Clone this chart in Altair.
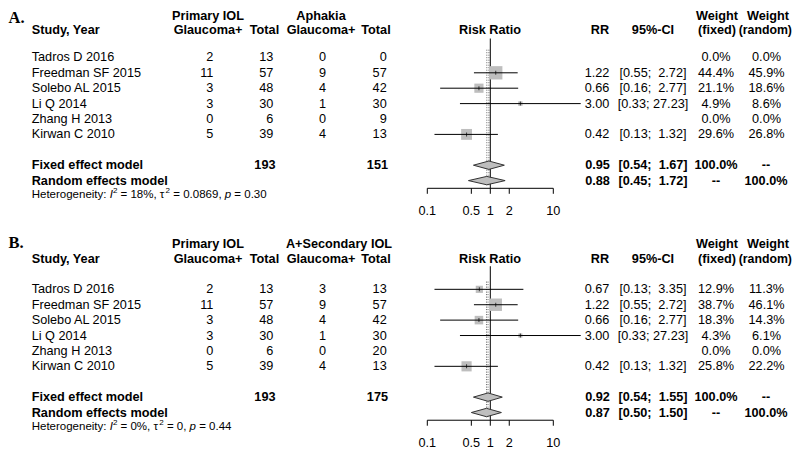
import altair as alt
import pandas as pd

# ---------------- data ----------------
studies = ["Tadros D 2016", "Freedman SF 2015", "Solebo AL 2015", "Li Q 2014", "Zhang H 2013", "Kirwan C 2010"]
primary_events = [2, 11, 3, 3, 0, 5]
primary_total = [13, 57, 48, 30, 6, 39]

# Panel A: Primary IOL vs Aphakia
a_ctrl_events = [0, 9, 4, 1, 0, 4]
a_ctrl_total = [0, 57, 42, 30, 9, 13]
a_rr = [None, 1.22, 0.66, 3.00, None, 0.42]
a_lo = [None, 0.55, 0.16, 0.33, None, 0.13]
a_hi = [None, 2.72, 2.77, 27.23, None, 1.32]
a_w_fixed = [0.0, 44.4, 21.1, 4.9, 0.0, 29.6]
a_w_random = [0.0, 45.9, 18.6, 8.6, 0.0, 26.8]
a_fixed = (0.95, 0.54, 1.67)
a_random = (0.88, 0.45, 1.72)
a_totals = (193, 151)
a_het = ("18%", "0.0869", "0.30")

# Panel B: Primary IOL vs A+Secondary IOL
b_ctrl_events = [3, 9, 4, 1, 0, 4]
b_ctrl_total = [13, 57, 42, 30, 20, 13]
b_rr = [0.67, 1.22, 0.66, 3.00, None, 0.42]
b_lo = [0.13, 0.55, 0.16, 0.33, None, 0.13]
b_hi = [3.35, 2.72, 2.77, 27.23, None, 1.32]
b_w_fixed = [12.9, 38.7, 18.3, 4.3, 0.0, 25.8]
b_w_random = [11.3, 46.1, 14.3, 6.1, 0.0, 22.2]
b_fixed = (0.92, 0.54, 1.55)
b_random = (0.87, 0.50, 1.50)
b_totals = (193, 175)
b_het = ("0%", "0", "0.44")

axis_ticks = [0.1, 0.5, 1, 2, 10]

# ---------------- layout ----------------
SANS = "Liberation Sans, Arial, Helvetica, sans-serif"
SERIF = "Liberation Serif, Times New Roman, serif"
FS = 12.7
HS = 11.5
W, H = 784, 442
ROW0 = 49.4      # plot y of first study row (panel A)
ROWH = 15.4
B_OFF = 15.06
GRAY = "#BEBEBE"


def px(x):
    return x - 8


def img_row(y_img):
    """row units for an image y (panel A)"""
    return (y_img - 57.4) / ROWH


yscale = alt.Scale(domain=[-ROW0 / ROWH, (H - ROW0) / ROWH], range=[0, H], nice=False, zero=False)
xscale = alt.Scale(type="log", domain=[0.1, 10], range=[px(427.3), px(553.3)], nice=False)
Yr = alt.Y("y:Q", scale=yscale, axis=None)
Xr = alt.X("x:Q", scale=xscale, axis=None)

layers = []


def add_text(rows, x, align="left", bold=False, size=FS, italic=False, font=SANS, dy=0,
             baseline="middle"):
    if not rows:
        return
    df = pd.DataFrame(rows, columns=["t", "y"])
    layers.append(
        alt.Chart(df).mark_text(
            align=align, baseline=baseline, font=font, fontSize=size,
            fontWeight="bold" if bold else "normal",
            fontStyle="italic" if italic else "normal",
            dy=dy, color="black",
        ).encode(x=alt.value(px(x)), y=Yr, text="t:N")
    )


AW = {" ": 278, ":": 278, ",": 278, ".": 278, "=": 584, "%": 889, "H": 722, "e": 556,
      "t": 278, "r": 333, "o": 556, "g": 556, "n": 556, "i": 222, "y": 500, "I": 278,
      "p": 556, "τ": 500}


def tw(s, size):
    return sum(AW.get(c, 556) for c in s) * size / 1000.0


def ci_str(lo, hi):
    return f"[{lo:.2f}; {hi:5.2f}]".replace("  ", " \u00a0")


panels = [
    dict(label="A.", ctrl="Aphakia", ctrl_x=321, off=0.0, ce=a_ctrl_events, ct=a_ctrl_total,
         rr=a_rr, lo=a_lo, hi=a_hi, wf=a_w_fixed, wr=a_w_random, fixed=a_fixed,
         random=a_random, totals=a_totals, het=a_het,
         lab_row=img_row(22.6), r1=img_row(15.9), r2=img_row(30.2), line_top=img_row(38.5)),
    dict(label="B.", ctrl="A+Secondary IOL", ctrl_x=339, off=B_OFF, ce=b_ctrl_events, ct=b_ctrl_total,
         rr=b_rr, lo=b_lo, hi=b_hi, wf=b_w_fixed, wr=b_w_random, fixed=b_fixed,
         random=b_random, totals=b_totals, het=b_het,
         lab_row=B_OFF - 2.7, r1=B_OFF - 2.93, r2=B_OFF - 1.97, line_top=B_OFF - 1.5),
]

sq_rows, ci_rows, dia_rows, ref_rows, dot_rows, axl_rows, axt_rows = [], [], [], [], [], [], []
lab_rows = []
HH = 4.2 / ROWH
FX = 716      # centre of the "Weight (fixed)" column
RX = 766.5    # centre of the "Weight (random)" column

for p in panels:
    o = p["off"]
    # panel label and headers
    add_text([(p["label"], p["lab_row"])], 8.5, bold=True, size=16.5, font=SERIF, baseline="alphabetic")
    r1, r2 = p["r1"], p["r2"]
    add_text([("Primary IOL", r1), ("Glaucoma+", r2)], 208, align="center", bold=True)
    add_text([(p["ctrl"], r1)], p["ctrl_x"], align="center", bold=True)
    add_text([("Glaucoma+", r2)], 321, align="center", bold=True)
    add_text([("Total", r2)], 264.5, align="center", bold=True)
    add_text([("Total", r2)], 376, align="center", bold=True)
    add_text([("Study, Year", r2)], 31.7, bold=True)
    add_text([("Risk Ratio", r2)], 490, align="center", bold=True)
    add_text([("RR", r2)], 600, align="center", bold=True)
    add_text([("95%-CI", r2)], 653, align="center", bold=True)
    add_text([("Weight", r1), ("(fixed)", r2)], FX + 1, align="center", bold=True)
    add_text([("Weight", r1)], 768, align="center", bold=True)
    add_text([("(random)", r2)], 765.3, align="center", bold=True, size=12.3)

    # study rows
    rows_y = [o + i for i in range(len(studies))]
    add_text(list(zip(studies, rows_y)), 31.7)
    add_text([(str(v), y) for v, y in zip(primary_events, rows_y)], 213.3, align="right")
    add_text([(str(v), y) for v, y in zip(primary_total, rows_y)], 273.3, align="right")
    add_text([(str(v), y) for v, y in zip(p["ce"], rows_y)], 326, align="right")
    add_text([(str(v), y) for v, y in zip(p["ct"], rows_y)], 386.7, align="right")
    add_text([(f"{v:.2f}", y) for v, y in zip(p["rr"], rows_y) if v is not None], 597, align="center")
    add_text([(ci_str(l, h), y) for l, h, y in zip(p["lo"], p["hi"], rows_y) if l is not None], 653, align="center")
    add_text([(f"{v:.1f}%", y) for v, y in zip(p["wf"], rows_y)], FX, align="center")
    add_text([(f"{v:.1f}%", y) for v, y in zip(p["wr"], rows_y)], RX, align="center")

    for rr, lo, hi, w, y in zip(p["rr"], p["lo"], p["hi"], p["wf"], rows_y):
        if rr is None:
            continue
        sq_rows.append(dict(x=rr, y=y, s=4 * w))
        ci_rows.append(dict(x=lo, x2=hi, y=y))

    # summary rows
    yf, yr = o + 7, o + 8
    add_text([("Fixed effect model", yf), ("Random effects model", yr)], 31.7, bold=True)
    add_text([(str(p["totals"][0]), yf)], 275.5, align="right", bold=True)
    add_text([(str(p["totals"][1]), yf)], 388, align="right", bold=True)
    add_text([(f"{p['fixed'][0]:.2f}", yf), (f"{p['random'][0]:.2f}", yr)], 597.5, align="center", bold=True)
    add_text([(ci_str(p["fixed"][1], p["fixed"][2]), yf), (ci_str(p["random"][1], p["random"][2]), yr)],
             653, align="center", bold=True)
    add_text([("100.0%", yf), ("--", yr)], FX, align="center", bold=True)
    add_text([("--", yf), ("100.0%", yr)], RX - 0.5, align="center", bold=True)

    for key, (est, lo, hi), y in (("f", p["fixed"], yf), ("r", p["random"], yr)):
        k = f"{p['label']}{key}"
        dia_rows += [dict(k=k, x=lo, y=y, y2=y), dict(k=k, x=est, y=y - HH, y2=y + HH),
                     dict(k=k, x=hi, y=y, y2=y)]
        dot_rows.append(dict(x=est, y=o - 0.5, y2=yr + 0.3))

    # heterogeneity line
    i2, tau, pv = p["het"]
    yh = o + 8.95
    pieces = [("Heterogeneity: ", "n"), ("I", "i"), ("2", "s"), (f" = {i2}, ", "n"), ("τ", "n"),
              ("2", "s"), (f" = {tau}, ", "n"), ("p", "i"), (f" = {pv}", "n")]
    x = 31.7
    for s, st in pieces:
        size = HS * 0.7 if st == "s" else HS
        lead = len(s) - len(s.lstrip(" "))
        add_text([(s.strip(), yh)], x + lead * 0.278 * size, size=size, italic=(st == "i"),
                 dy=(-HS * 0.33 if st == "s" else 0))
        x += tw(s, size)

    # reference lines and axis
    ref_rows.append(dict(x=1, y=p["line_top"], y2=o + 8.5))
    axl_rows.append(dict(x=axis_ticks[0], x2=axis_ticks[-1], y=o + 8.5))
    for t in axis_ticks:
        axt_rows.append(dict(x=t, y=o + 8.5, y2=o + 8.5 + 5.5 / ROWH))
        lab_rows.append(dict(x=t, y=o + 10, t=f"{t:g}"))

sq_df = pd.DataFrame(sq_rows)
ci_df = pd.DataFrame(ci_rows)
dia_df = pd.DataFrame(dia_rows)

forest = [
    alt.Chart(pd.DataFrame(dot_rows)).mark_rule(color="#666", strokeWidth=1, strokeDash=[1, 1.5])
    .encode(x=Xr, y=Yr, y2="y2:Q"),
    alt.Chart(pd.DataFrame(ref_rows)).mark_rule(color="black", strokeWidth=1)
    .encode(x=Xr, y=Yr, y2="y2:Q"),
    alt.Chart(sq_df).mark_square(filled=True, color=GRAY, opacity=1)
    .encode(x=Xr, y=Yr, size=alt.Size("s:Q", scale=None, legend=None)),
    alt.Chart(ci_df).mark_rule(color="black", strokeWidth=1).encode(x=Xr, x2="x2:Q", y=Yr),
    alt.Chart(sq_df).mark_tick(orient="vertical", size=4, thickness=1, color="black")
    .encode(x=Xr, y=Yr),
    alt.Chart(dia_df).mark_area(fill=GRAY, stroke="#333", strokeWidth=1, fillOpacity=1, orient="vertical")
    .encode(x=Xr, y=Yr, y2="y2:Q", detail="k:N"),
    alt.Chart(pd.DataFrame(axl_rows)).mark_rule(color="black", strokeWidth=1).encode(x=Xr, x2="x2:Q", y=Yr),
    alt.Chart(pd.DataFrame(axt_rows)).mark_rule(color="black", strokeWidth=1).encode(x=Xr, y=Yr, y2="y2:Q"),
    alt.Chart(pd.DataFrame(lab_rows)).mark_text(font=SANS, fontSize=FS, baseline="middle", align="center",
                                               color="black").encode(x=Xr, y=Yr, text="t:N"),
]

chart = alt.layer(*forest, *layers).properties(
    width=W, height=H, padding=0, autosize="none", background="white"
).configure_view(stroke=None)

chart.save("out.html", embed_options={"renderer": "svg", "actions": False})
